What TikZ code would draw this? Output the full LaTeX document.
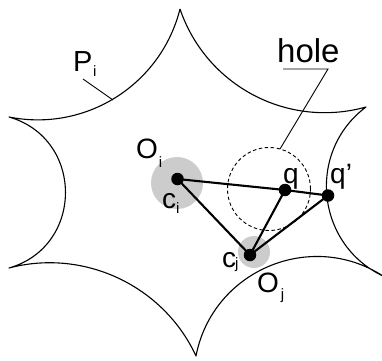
\documentclass[tikz,border=0pt]{standalone}
\usepackage{fontspec}
\setmainfont{Liberation Sans}
\newcommand{\subsz}{\fontsize{15}{15}\selectfont}
\begin{document}
\begin{tikzpicture}[x=1pt,y=1pt,
  edge/.style={line width=1.1pt,line join=round},
  tri/.style={line width=2.1pt,line cap=round},
  dot/.style={circle,fill=black,inner sep=0pt,minimum size=12.5pt},
  lbl/.style={inner sep=0pt,anchor=base west,font=\fontsize{28}{30}\selectfont},
  lead/.style={line width=0.9pt},
  disc/.style={fill=black!20},
]
\useasboundingbox (0,0) rectangle (382,360);
\clip (0,0) rectangle (382,360);
% tips of the region P_i
\coordinate (T1) at (180,351);
\coordinate (T2) at (366,253);
\coordinate (T3) at (383,84);
\coordinate (T4) at (196,4);
\coordinate (T5) at (9,92);
\coordinate (T6) at (9,243);
% points
\coordinate (ci) at (177.5,181);
\coordinate (q) at (285,170);
\coordinate (qp) at (328,164.5);
\coordinate (cj) at (250,105);
% grey discs
\fill[disc] (177,177) circle[radius=26];
\fill[disc] (254,108) circle[radius=16];
% outline
\draw[edge] (T1) to[bend right=43.4,looseness=0.99] (T2)
  to[bend right=59,looseness=1.12] (T3)
  to[bend right=56,looseness=1.09] (T4)
  to[bend right=40,looseness=0.96] (T5)
  to[bend right=74,looseness=1.33] (T6)
  to[bend right=43.6,looseness=0.99] (T1);
% hole
\draw[lead,dash pattern=on 3.5pt off 2.5pt] (269,171) circle[radius=41.5];
% triangle lines
\draw[tri] (ci) -- (q) -- (qp);
\draw[tri] (ci) -- (cj);
\draw[tri] (cj) -- (q);
\draw[tri] (cj) -- (qp);
\node[dot] (nci) at (ci) {};
\node[dot] (nq) at (q) {};
\node[dot] (nqp) at (qp) {};
\node[dot] (ncj) at (cj) {};
% labels
\node[lbl,font=\fontsize{33}{35}\selectfont] (hole) at (277,298) {hole};
\coordinate (h1) at (283,291);
\coordinate (h2) at (328,291);
\coordinate (h3) at (280,211);
\draw[lead] (h1) -- (h2) -- (h3);
\node[lbl,font=\fontsize{29}{30}\selectfont] (Pi) at (73,289) {P\kern0.5pt\raisebox{-5pt}{\subsz i}};
\coordinate (p1) at (83,281);
\coordinate (p2) at (113,260);
\draw[lead] (p1) -- (p2);
\node[lbl] (Oi) at (136,202) {O\kern1pt\raisebox{-9pt}{\subsz i}};
\node[lbl] (cilab) at (162,152) {c\raisebox{-5pt}{\subsz i}};
\node[lbl] (qlab) at (283,177) {q};
\node[lbl] (qplab) at (330,177) {q'};
\node[lbl] (cjlab) at (222,93) {c\kern-1pt\raisebox{-1.5pt}{\subsz j}};
\node[lbl] (Oj) at (257,68) {O\kern2pt\raisebox{-7.5pt}{\subsz j}};
\end{tikzpicture}
\end{document}
